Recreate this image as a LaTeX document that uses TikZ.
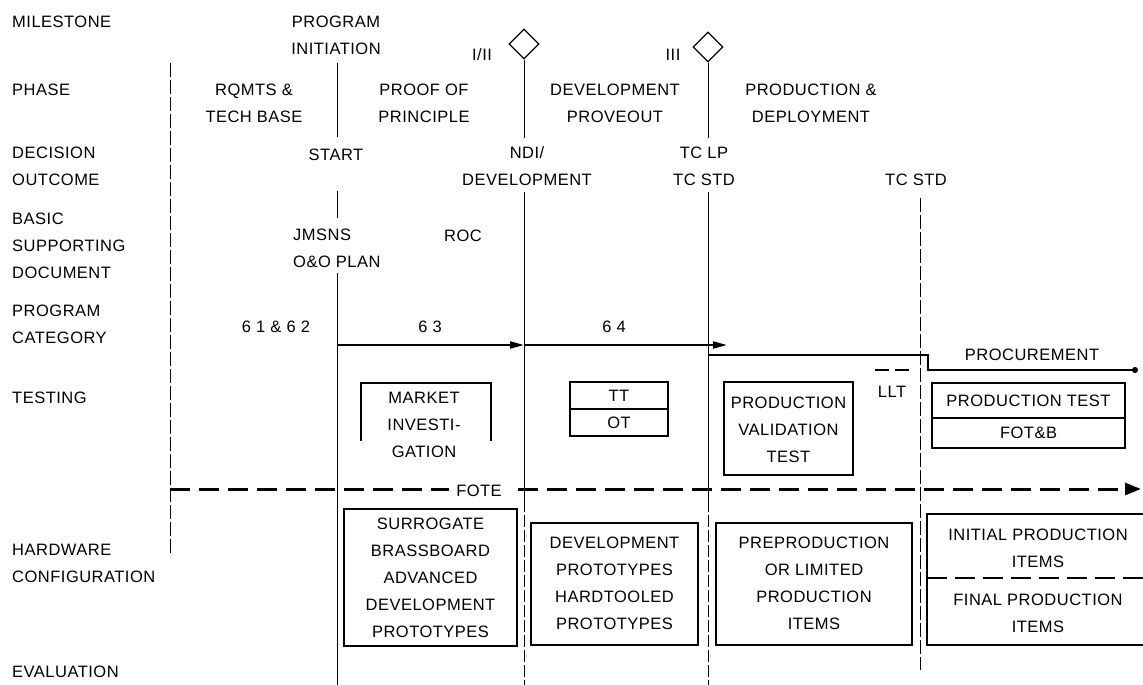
\documentclass[tikz,border=0pt]{standalone}
\usepackage{fontspec}
\setmainfont{Liberation Sans}[LetterSpace=3]
\usetikzlibrary{arrows.meta,shapes.geometric}
\tikzset{
  txt/.style={inner sep=0pt, align=center},
  rowlabel/.style={inner sep=0pt, align=left, anchor=west},
  box/.style={draw, line width=1.3pt, inner sep=0pt},
  vline/.style={line width=1pt},
  vdash/.style={line width=0.9pt, dash pattern=on 14pt off 3pt},
  catarrow/.style={line width=2pt, -{Triangle[length=14pt,width=7pt]}},
  fotearrow/.style={line width=3pt, dash pattern=on 20pt off 9pt, -{Triangle[length=16pt,width=12pt]}},
  ms/.style={diamond, draw, line width=1.3pt, minimum width=30pt, minimum height=30pt, inner sep=0pt},
}
\begin{document}
\begin{tikzpicture}[x=1pt,y=-1pt,font=\fontsize{16.5}{27}\selectfont]
\useasboundingbox (0,0) rectangle (1143,685);
% row labels
\node[rowlabel] (mil) at (12,22) {MILESTONE};
\node[rowlabel] (pha) at (12,90) {PHASE};
\node[rowlabel] (dec) at (12,166.5) {DECISION\\OUTCOME};
\node[rowlabel] (bsd) at (12,245.5) {BASIC\\SUPPORTING\\DOCUMENT};
\node[rowlabel] (pcat) at (12,324) {PROGRAM\\CATEGORY};
\node[rowlabel] (tst) at (12,398) {TESTING};
\node[rowlabel] (hw) at (12,563.5) {HARDWARE\\CONFIGURATION};
\node[rowlabel] (ev) at (12,672) {EVALUATION};
% milestones
\node[txt] (init) at (336,35) {PROGRAM\\INITIATION};
\node[ms] (d1) at (524,44) {};
\node[ms] (d2) at (708,47) {};
\node[txt] (l12) at (482,55) {I/II};
\node[txt] (l3) at (673,55) {III};
% phases
\node[txt] (ph1) at (254,103.5) {RQMTS \&\\TECH BASE};
\node[txt] (ph2) at (424,103.5) {PROOF OF\\PRINCIPLE};
\node[txt] (ph3) at (615,103.5) {DEVELOPMENT\\PROVEOUT};
\node[txt] (ph4) at (811,103.5) {PRODUCTION \&\\DEPLOYMENT};
% decisions
\node[txt] (start) at (336,155) {START};
\node[txt] (ndi) at (527,166.5) {NDI/\\DEVELOPMENT};
\node[txt] (tclp) at (704,166.5) {TC LP\\TC STD};
\node[txt] (tcstd) at (916,180) {TC STD};
% documents
\node[rowlabel, anchor=west] (jm) at (293,248.5) {JMSNS\\O\&O PLAN};
\node[txt] (roc) at (463,236) {ROC};
% program category
\node[txt] (c12) at (276,327) {6 1 \& 6 2};
\node[txt] (c3) at (430,327) {6 3};
\node[txt] (c4) at (614,327) {6 4};
\node[txt] (proc) at (1032,355) {PROCUREMENT};
\node[txt] (llt) at (892,392) {LLT};
% coordinates for lines
\coordinate (pa) at (337,345);
\coordinate (pb) at (524,345);
\coordinate (pc) at (727,345);
\coordinate (sa) at (708,355);
\coordinate (sb) at (928,355);
\coordinate (sc) at (928,370);
\coordinate (sd) at (1138,370);
\coordinate (la) at (875,370);
\coordinate (lb) at (913,370);
\draw[catarrow] (pa) -- (pb);
\draw[catarrow] (pb) -- (pc);
\draw[line width=2pt, -{Circle[length=6pt]}] (sa) -- (sb) -- (sc) -- (sd);
\draw[line width=1.5pt, dash pattern=on 14pt off 6pt] (la) -- (lb);
% vertical lines
\coordinate (v0a) at (170,63); \coordinate (v0b) at (170,555);
\draw[vdash] (v0a) -- (v0b);
\coordinate (v1a) at (337,63); \coordinate (v1b) at (337,137);
\coordinate (v1c) at (337,191); \coordinate (v1d) at (337,218);
\coordinate (v1e) at (337,273); \coordinate (v1f) at (337,685);
\draw[vline] (v1a) -- (v1b);
\draw[vline] (v1c) -- (v1d);
\draw[vline] (v1e) -- (v1f);
\coordinate (v2b) at (524,138); \coordinate (v2c) at (524,192);
\coordinate (v2d) at (524,500); \coordinate (v2e) at (524,685);
\draw[vline] (d1.south) -- (v2b);
\draw[vline] (v2c) -- (v2d);
\draw[vline, dash pattern=on 12pt off 3pt] (v2d) -- (v2e);
\coordinate (v3b) at (708,138); \coordinate (v3c) at (708,192);
\coordinate (v3d) at (708,500); \coordinate (v3e) at (708,685);
\draw[vline] (d2.south) -- (v3b);
\draw[vline] (v3c) -- (v3d);
\draw[vline, dash pattern=on 12pt off 3pt] (v3d) -- (v3e);
\coordinate (v4a) at (920,198); \coordinate (v4b) at (920,670);
\draw[vdash] (v4a) -- (v4b);
% testing boxes
\coordinate (ma) at (361,441); \coordinate (mb) at (361,383);
\coordinate (mc) at (491,383); \coordinate (md) at (491,441);
\draw[line width=1.3pt] (ma) -- (mb) -- (mc) -- (md);
\node[txt] (mkt) at (424,425) {MARKET\\INVESTI-\\GATION};
\node[box, minimum width=98pt, minimum height=27pt] (tt) at (619,395.5) {TT};
\node[box, minimum width=98pt, minimum height=27pt] (ot) at (619,422.5) {OT};
\node[box, minimum width=129pt, minimum height=93pt] (pvt) at (788.5,428.5) {};
\node[txt] (pvtt) at (788.5,430) {PRODUCTION\\VALIDATION\\TEST};
\node[box, minimum width=193pt, minimum height=35pt] (pt) at (1028.5,400.5) {PRODUCTION TEST};
\node[box, minimum width=193pt, minimum height=30pt] (fot) at (1028.5,433) {FOT\&B};
% FOTE
\coordinate (fa) at (170,489); \coordinate (fb) at (1141,489);
\draw[fotearrow] (fa) -- (fb);
\node[txt, fill=white, inner xsep=7pt, inner ysep=4pt] (fote) at (479,491) {FOTE};
% hardware boxes
\node[box, minimum width=173pt, minimum height=137pt] (hw1) at (430.5,577.5) {};
\node[txt] (hw1t) at (430.5,577.5) {SURROGATE\\BRASSBOARD\\ADVANCED\\DEVELOPMENT\\PROTOTYPES};
\node[box, minimum width=167pt, minimum height=122pt] (hw2) at (614.5,584) {};
\node[txt] (hw2t) at (614.5,583.5) {DEVELOPMENT\\PROTOTYPES\\HARDTOOLED\\PROTOTYPES};
\node[box, minimum width=196pt, minimum height=122pt] (hw3) at (814,584) {};
\node[txt] (hw3t) at (814,583.5) {PREPRODUCTION\\OR LIMITED\\PRODUCTION\\ITEMS};
\coordinate (ia) at (1143,514); \coordinate (ib) at (927,514);
\coordinate (ic) at (927,645); \coordinate (id) at (1143,645);
\draw[line width=1.3pt] (ia) -- (ib) -- (ic) -- (id);
\coordinate (ie) at (927,578); \coordinate (if) at (1143,578);
\draw[line width=2.5pt, dash pattern=on 20pt off 8pt] (ie) -- (if);
\node[txt] (ip) at (1038,548.5) {INITIAL PRODUCTION\\ITEMS};
\node[txt] (fp) at (1038,613) {FINAL PRODUCTION\\ITEMS};
\end{tikzpicture}
\end{document}
